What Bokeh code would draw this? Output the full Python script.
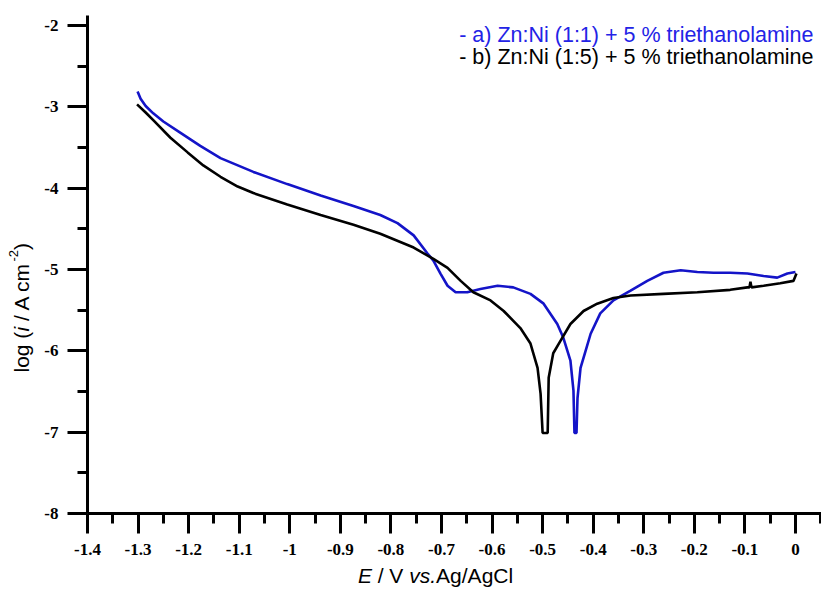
import math
from bokeh.plotting import figure
from bokeh.models import Label, FixedTicker, Range1d, Plot
from bokeh.layouts import column, row
from bokeh.embed import file_html
from bokeh.resources import INLINE

# ---- data ----
blue_E = [-1.301, -1.295, -1.285, -1.270, -1.250, -1.216, -1.177, -1.137, -1.072, -1.005,
          -0.939, -0.874, -0.821, -0.787, -0.755, -0.728, -0.716, -0.702, -0.688, -0.672,
          -0.649, -0.623, -0.589, -0.558, -0.524, -0.498, -0.471, -0.459, -0.445, -0.439,
          -0.437, -0.433, -0.431, -0.425, -0.415, -0.405, -0.386, -0.360, -0.326, -0.293,
          -0.261, -0.227, -0.194, -0.162, -0.129, -0.095, -0.063, -0.036, -0.016, 0.000]
blue_logi = [-2.81, -2.90, -2.99, -3.08, -3.18, -3.32, -3.48, -3.63, -3.80, -3.95,
             -4.09, -4.22, -4.33, -4.43, -4.58, -4.80, -4.89, -5.05, -5.20, -5.28,
             -5.28, -5.24, -5.20, -5.22, -5.30, -5.42, -5.67, -5.84, -6.12, -6.49,
             -7.01, -7.01, -6.58, -6.21, -6.00, -5.79, -5.54, -5.38, -5.26, -5.14,
             -5.04, -5.01, -5.03, -5.04, -5.04, -5.05, -5.08, -5.10, -5.05, -5.03]

black_E = [-1.302, -1.285, -1.269, -1.236, -1.202, -1.171, -1.137, -1.103, -1.072, -1.005,
           -0.939, -0.874, -0.821, -0.755, -0.716, -0.688, -0.662, -0.637,
           -0.603, -0.577, -0.544, -0.524, -0.510, -0.504, -0.500, -0.490, -0.488, -0.479,
           -0.465, -0.445, -0.419, -0.392, -0.360, -0.326, -0.261, -0.194, -0.129, -0.095,
           -0.091, -0.089, -0.087, -0.063, -0.030, -0.004, 0.002]
black_logi = [-2.97, -3.07, -3.17, -3.38, -3.56, -3.72, -3.86, -3.98, -4.06, -4.20,
              -4.33, -4.45, -4.56, -4.73, -4.87, -4.98, -5.14, -5.28,
              -5.38, -5.51, -5.72, -5.91, -6.21, -6.53, -7.01, -7.01, -6.33, -6.03,
              -5.88, -5.67, -5.51, -5.42, -5.35, -5.32, -5.30, -5.28, -5.25, -5.22,
              -5.22, -5.15, -5.22, -5.20, -5.17, -5.14, -5.05]

x_ticks = [-1.4, -1.3, -1.2, -1.1, -1.0, -0.9, -0.8, -0.7, -0.6, -0.5, -0.4, -0.3, -0.2, -0.1, 0.0]
x_tick_labels = ["-1.4", "-1.3", "-1.2", "-1.1", "-1", "-0.9", "-0.8", "-0.7", "-0.6",
                 "-0.5", "-0.4", "-0.3", "-0.2", "-0.1", "0"]
y_ticks = [-8, -7, -6, -5, -4, -3, -2]
y_tick_labels = ["-8", "-7", "-6", "-5", "-4", "-3", "-2"]

legend_a = "- a) Zn:Ni (1:1) + 5 % triethanolamine"
legend_b = "- b) Zn:Ni (1:5) + 5 % triethanolamine"

BLUE_LINE = "#1414c8"
BLUE_TEXT = "#2323e6"
FONT = "Liberation Sans"
FS = "21px"
HAS_FRAME_ALIGN = "frame_align" in Plot.properties()

MAIN_H = 563

# ---- main plot ----
p = figure(width=781, height=MAIN_H,
           x_range=Range1d(-1.4, 0.0515), y_range=Range1d(-8, -1.877),
           output_backend="svg", toolbar_location=None,
           min_border_left=47, min_border_right=0, min_border_top=15,
           min_border_bottom=MAIN_H - 513)
p.outline_line_color = None
p.grid.visible = False
p.background_fill_color = "white"
p.border_fill_color = "white"

p.line(blue_E, blue_logi, line_color=BLUE_LINE, line_width=2.6)
p.line(black_E, black_logi, line_color="black", line_width=2.6)

x_minor = [round(t + 0.05, 3) for t in x_ticks]
y_minor = [t + 0.5 for t in y_ticks if t + 0.5 < -1.877]
p.xaxis.ticker = FixedTicker(ticks=x_ticks, minor_ticks=x_minor)
p.yaxis.ticker = FixedTicker(ticks=y_ticks, minor_ticks=y_minor)
p.xaxis.major_label_overrides = dict(zip(x_ticks, x_tick_labels))
p.yaxis.major_label_overrides = dict(zip(y_ticks, y_tick_labels))

for ax in (p.xaxis, p.yaxis):
    ax.axis_line_width = 3
    ax.major_tick_line_width = 3
    ax.minor_tick_line_width = 3
    ax.major_tick_out = 20
    ax.major_tick_in = 0
    ax.minor_tick_out = 10
    ax.minor_tick_in = 0
    ax.major_label_text_font = "Liberation Serif"
    ax.major_label_text_font_style = "bold"
    ax.major_label_text_font_size = "17px"
    ax.major_label_text_color = "black"
    ax.axis_line_color = "black"
    ax.major_tick_line_color = "black"
    ax.minor_tick_line_color = "black"
p.xaxis.major_label_standoff = 10
p.yaxis.major_label_standoff = 9

p.add_layout(Label(x=726, y=479, x_units="screen", y_units="screen", text=legend_a,
                   text_font=FONT, text_font_size="21.5px", text_color=BLUE_TEXT,
                   text_align="right", text_baseline="alphabetic"))
p.add_layout(Label(x=726, y=457, x_units="screen", y_units="screen", text=legend_b,
                   text_font=FONT, text_font_size="21.5px", text_color="black",
                   text_align="right", text_baseline="alphabetic"))


def text_panel(w, h, top=0, bottom=0):
    f = figure(width=w, height=h, x_range=Range1d(0, w), y_range=Range1d(0, h - top - bottom),
               output_backend="svg", toolbar_location=None,
               x_axis_location=None, y_axis_location=None,
               min_border_left=0, min_border_right=0,
               min_border_top=top, min_border_bottom=bottom)
    f.outline_line_color = None
    f.grid.visible = False
    f.background_fill_color = "white"
    f.border_fill_color = "white"
    if HAS_FRAME_ALIGN:
        f.frame_align = False
    return f


def lab(f, x, y, text, style="normal", angle=0.0, size=FS):
    f.add_layout(Label(x=x, y=y, text=text, text_font=FONT, text_font_size=size,
                       text_font_style=style, text_color="black", angle=angle,
                       text_align="left", text_baseline="alphabetic"))

# y-axis title panel (left); frame spans the same rows as the main frame
left = text_panel(40, MAIN_H, top=15, bottom=MAIN_H - 513)
A = math.pi / 2
lab(left, 21, 141.0, "log (", angle=A)
lab(left, 21, 181.9, "i", "italic", angle=A)
lab(left, 21, 192.4, "/ A cm", angle=A)
lab(left, 13, 251.9, "-2", angle=A, size="13px")
lab(left, 21, 263.4, ")", angle=A)

# x-axis title panel (bottom)
bottom = text_panel(821, 589 - MAIN_H)
lab(bottom, 357.4, 14, "E", "italic")
lab(bottom, 377.2, 14, "/ V")
lab(bottom, 408.8, 14, "vs.", "italic")
lab(bottom, 435.6, 14, "Ag/AgCl")

layout = column(row(left, p, spacing=0), bottom, spacing=0)

open("out.html", "w").write(file_html(layout, INLINE))
